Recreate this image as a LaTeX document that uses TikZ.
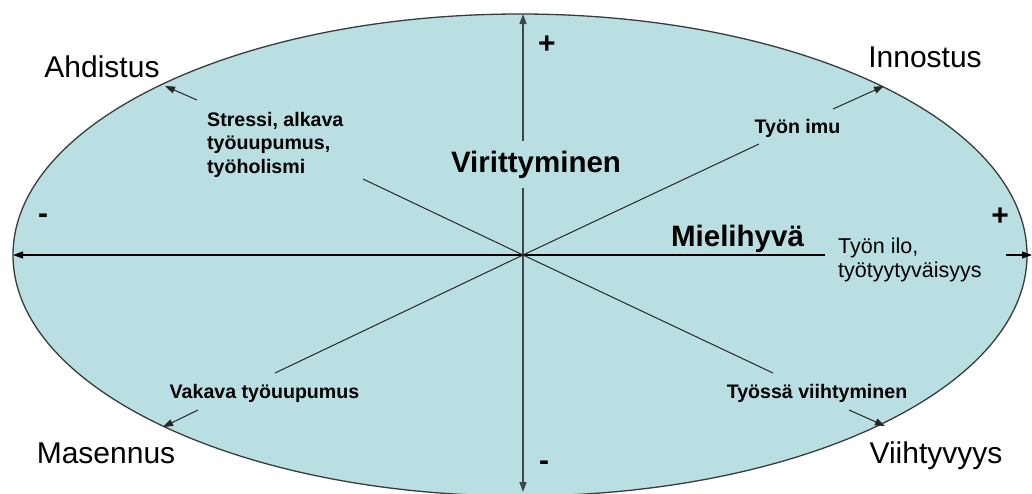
\documentclass[tikz,border=0pt]{standalone}
\usepackage{fontspec}
\setmainfont{Liberation Sans}
\usetikzlibrary{arrows.meta}
\definecolor{bgblue}{RGB}{185,223,227}
\definecolor{rimgray}{RGB}{55,60,60}
\definecolor{axisgray}{RGB}{60,72,72}
\begin{document}
\begin{tikzpicture}[x=1pt,y=-1pt,
  tip/.style={-{Triangle[length=10pt,width=7pt]}},
  corner/.style={font=\fontsize{30}{34}\selectfont, inner sep=0pt, anchor=base},
  lbl/.style={font=\bfseries\fontsize{19.6}{23.5}\selectfont, inner sep=0pt},
  axislbl/.style={font=\bfseries\fontsize{29.5}{34}\selectfont, inner sep=0pt, anchor=base},
  sign/.style={font=\bfseries\fontsize{30}{34}\selectfont, inner sep=0pt},
  thin/.style={line width=1pt, draw=black!85}]
\useasboundingbox (0,0) rectangle (1032,493);
% ellipse
\path[fill=bgblue, draw=rimgray, line width=1.3pt] (520,255) ellipse [x radius=507, y radius=241];

% coordinates
\coordinate (O) at (523,255);
\coordinate (vtop) at (523,14);
\coordinate (vbot) at (523,492);
\coordinate (hleft) at (13,255);
\coordinate (hmid) at (825,255);
\coordinate (hr1) at (1006,255);
\coordinate (hr2) at (1032,255);
\coordinate (d1a) at (275,373);
\coordinate (d1b) at (759,144);
\coordinate (d2a) at (363,179);
\coordinate (d2b) at (773,373);
\coordinate (a1s) at (197,100); \coordinate (a1e) at (165,86);
\coordinate (a2s) at (833,109); \coordinate (a2e) at (884,86);
\coordinate (a3s) at (198,410); \coordinate (a3e) at (163,427);
\coordinate (a4s) at (849,410); \coordinate (a4e) at (885,426);

% axes
\draw[line width=1.6pt, draw=axisgray, {Triangle[length=10pt,width=7pt]}-{Triangle[length=10pt,width=7pt]}] (vbot) -- (vtop);
\draw[line width=1.1pt, tip] (O) -- (hleft);
\draw[line width=1.1pt] (O) -- (hmid);
\draw[line width=1.1pt, tip] (hr1) -- (hr2);

% diagonals
\draw[thin] (d1a) -- (O) -- (d1b);
\draw[thin] (d2a) -- (O) -- (d2b);

% small arrows
\draw[thin, tip] (a1s) -- (a1e);
\draw[thin, tip] (a2s) -- (a2e);
\draw[thin, tip] (a3s) -- (a3e);
\draw[thin, tip] (a4s) -- (a4e);

% corner labels
\node[corner] (ahd) at (102,77) {Ahdistus};
\node[corner] (inn) at (925,67) {Innostus};
\node[corner] (mas) at (106,463) {Masennus};
\node[corner] (vii) at (936,463) {Viihtyvyys};

% inner labels
\node[lbl, anchor=base west, align=left] (stress) at (207,173) {Stressi, alkava\\työuupumus,\\työholismi};
\node[lbl, anchor=base] (imu) at (797.5,133) {Työn imu};
\node[lbl, anchor=base] (vakava) at (264.5,398) {Vakava työuupumus};
\node[lbl, anchor=base] (viiht) at (817,398) {Työssä viihtyminen};
\node[font=\fontsize{21.5}{24}\selectfont, inner sep=0pt, anchor=base west, align=left] (ilo) at (838,277) {Työn ilo,\\työtyytyväisyys};

% axis labels
\node[axislbl, fill=bgblue, inner xsep=4pt, inner ysep=10pt] (vir) at (536,172) {Virittyminen};
\node[axislbl] (mie) at (737.5,246) {Mielihyvä};

% signs
\node[sign] (ptop) at (547,45) {+};
\node[sign] (mbot) at (544,466) {-};
\node[sign] (mleft) at (43,219) {-};
\node[sign] (pright) at (1000,217) {+};
\end{tikzpicture}
\end{document}
